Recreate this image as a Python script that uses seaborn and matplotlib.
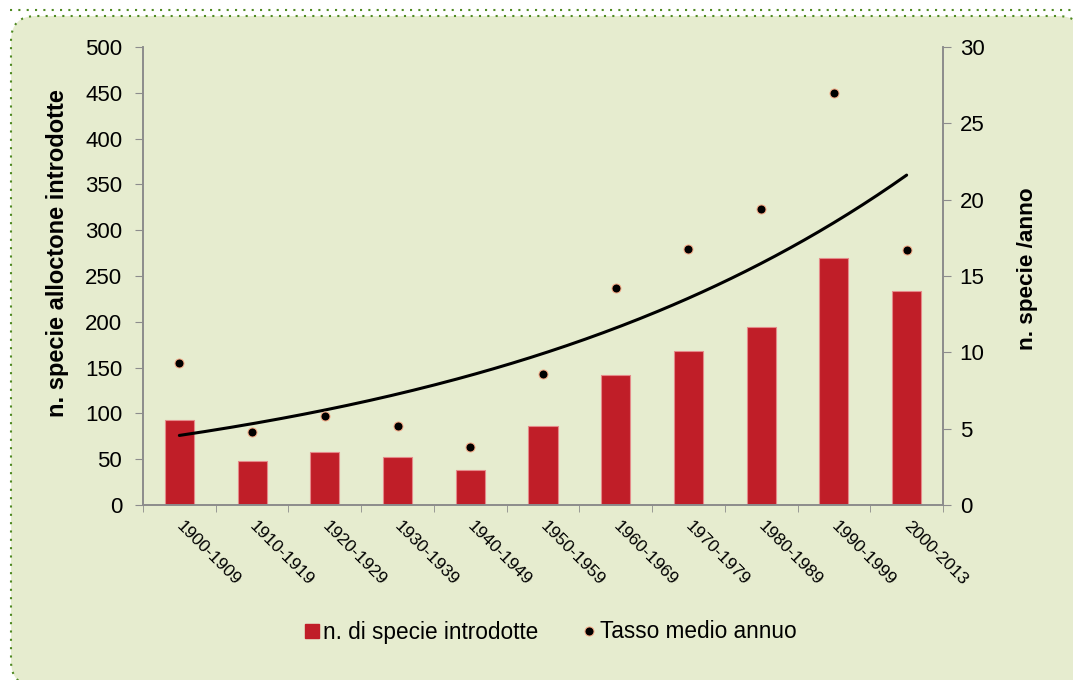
import numpy as np
import pandas as pd
import matplotlib
matplotlib.use("Agg")
import matplotlib.pyplot as plt
import matplotlib.transforms as mtransforms
from matplotlib.patches import FancyBboxPatch
from matplotlib.lines import Line2D
import seaborn as sns

# Data
periods = ["1900-1909", "1910-1919", "1920-1929", "1930-1939", "1940-1949",
           "1950-1959", "1960-1969", "1970-1979", "1980-1989", "1990-1999",
           "2000-2013"]
species_introduced = [93, 48, 58, 52, 38, 86, 142, 168, 194, 270, 234]
yearly_rate = [9.3, 4.8, 5.8, 5.2, 3.8, 8.6, 14.2, 16.8, 19.4, 27.0, 16.7]
left_ticks = list(range(0, 501, 50))
right_ticks = list(range(0, 31, 5))

bar_label = "n. di specie introdotte"
rate_label = "Tasso medio annuo"

sns.set_style("ticks")
plt.rcParams["font.family"] = ["Liberation Sans", "DejaVu Sans"]
plt.rcParams["text.color"] = "black"
plt.rcParams["axes.labelcolor"] = "black"
plt.rcParams["xtick.labelcolor"] = "black"
plt.rcParams["ytick.labelcolor"] = "black"

BAR_COLOR = "#C01E28"
PANEL_COLOR = "#E6ECCF"
BORDER_GREEN = "#4F8A22"
SPINE_GRAY = "#8C8C8C"

fig = plt.figure(figsize=(10.73, 6.8), dpi=100)
fig.patch.set_facecolor("white")

# Rounded background panel with dotted border (pixel coordinates)
ident = mtransforms.IdentityTransform()
panel = FancyBboxPatch((36, 19), 1022, 620,
                       boxstyle="round,pad=25",
                       facecolor=PANEL_COLOR, edgecolor=BORDER_GREEN,
                       linewidth=1.5, linestyle=(0, (1, 3)),
                       transform=ident, zorder=-2)
fig.patches.append(panel)
top_rule = Line2D([10, 1073], [670, 670], color=BORDER_GREEN, linewidth=1.5,
                  linestyle=(0, (1, 3)), transform=ident, zorder=-2)
fig.lines.append(top_rule)

ax = fig.add_axes([143 / 1073, 1 - 505 / 680, 800 / 1073, 458 / 680])
ax.set_facecolor("none")

df = pd.DataFrame({"period": periods, "species": species_introduced,
                   "rate": yearly_rate})
x = np.arange(len(periods))

sns.barplot(data=df, x="period", y="species", color=BAR_COLOR, width=0.4,
            edgecolor="#E58A8A", linewidth=0.8, saturation=1, ax=ax, zorder=2)

ax.set_xlim(-0.5, len(periods) - 0.5)
ax.set_ylim(0, 500)
ax.set_yticks(left_ticks)
ax.tick_params(axis="y", labelsize=16, length=6, color=SPINE_GRAY,
               direction="out", pad=9)
ax.set_xticks(x)
ax.set_xticklabels(periods, rotation=-45, ha="left", va="top",
                   rotation_mode="anchor", fontsize=12.5)
ax.tick_params(axis="x", which="major", length=0, pad=10)
shift = mtransforms.ScaledTranslation(0.05, 0, fig.dpi_scale_trans)
for lbl in ax.get_xticklabels():
    lbl.set_transform(lbl.get_transform() + shift)
ax.set_xticks(np.arange(-0.5, len(periods), 1.0), minor=True)
ax.tick_params(axis="x", which="minor", length=5, color=SPINE_GRAY,
               direction="out")
ax.set_xlabel("")
ax.set_ylabel("n. specie alloctone introdotte", fontsize=17,
              fontweight="bold")
ax.yaxis.set_label_coords(-0.093, 0.55)
for side in ["left", "bottom", "right"]:
    ax.spines[side].set_color(SPINE_GRAY)
    ax.spines[side].set_linewidth(1.2)
ax.spines["top"].set_visible(False)

ax2 = ax.twinx()
ax2.set_facecolor("none")
sns.scatterplot(x=x, y=df["rate"], color="black", edgecolor="#F4A582",
                linewidth=0.7, s=42, ax=ax2, zorder=4, legend=False)

# Exponential trend line fitted to the yearly rates
k = np.arange(1, len(periods) + 1)
slope, intercept = np.polyfit(k, np.log(df["rate"]), 1)
xs = np.linspace(1, len(periods), 200)
sns.lineplot(x=xs - 1, y=np.exp(intercept + slope * xs), color="black",
             linewidth=2.2, ax=ax2, zorder=3)

ax2.set_ylim(0, 30)
ax2.set_yticks(right_ticks)
ax2.tick_params(axis="y", labelsize=16, length=6, color=SPINE_GRAY,
                direction="out", pad=6)
ax2.set_ylabel("n. specie /anno", fontsize=16.2, fontweight="bold")
ax2.yaxis.set_label_coords(1.092, 0.515)
ax2.set_xlim(-0.5, len(periods) - 0.5)
for side in ["left", "bottom", "right"]:
    ax2.spines[side].set_color(SPINE_GRAY)
    ax2.spines[side].set_linewidth(1.2)
ax2.spines["top"].set_visible(False)

handles = [
    Line2D([], [], marker="s", linestyle="", markersize=10,
           markerfacecolor=BAR_COLOR, markeredgecolor=BAR_COLOR),
    Line2D([], [], marker="o", linestyle="", markersize=6.5,
           markerfacecolor="black", markeredgecolor="#F4A582",
           markeredgewidth=0.7),
]
fig.legend(handles, [bar_label, rate_label], loc="center",
           bbox_to_anchor=(551 / 1073, 1 - 632 / 680), ncol=2, frameon=False,
           fontsize=16.3, handlelength=0.6, handletextpad=0.2,
           columnspacing=1.95)

fig.savefig("out.png", dpi=100, facecolor="white")
